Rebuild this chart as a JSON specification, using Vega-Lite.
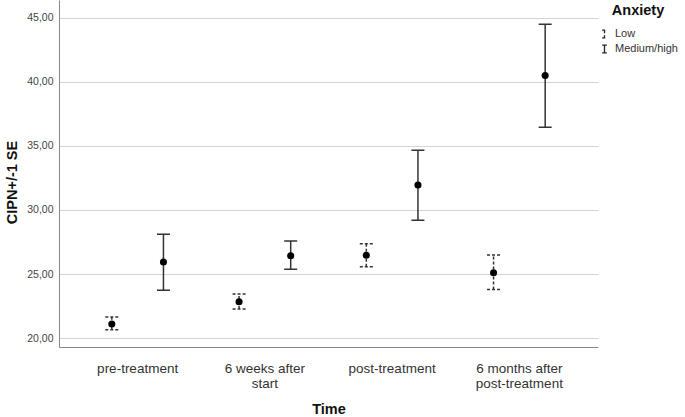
{
  "$schema": "https://vega.github.io/schema/vega-lite/v6.json",
  "width": 539,
  "height": 347,
  "autosize": {"type": "none"},
  "padding": {"left": 59, "top": 0, "right": 87, "bottom": 70},
  "background": "white",
  "config": {
    "font": "Liberation Sans",
    "view": {"stroke": null}
  },
  "data": {
    "values": [
      {"Time": "pre-treatment", "Anxiety": "Low", "mean": 21.1, "lower": 20.65, "upper": 21.64},
      {"Time": "pre-treatment", "Anxiety": "Medium/high", "mean": 25.94, "lower": 23.73, "upper": 28.1},
      {"Time": "6 weeks after start", "Anxiety": "Low", "mean": 22.84, "lower": 22.27, "upper": 23.44},
      {"Time": "6 weeks after start", "Anxiety": "Medium/high", "mean": 26.43, "lower": 25.37, "upper": 27.58},
      {"Time": "post-treatment", "Anxiety": "Low", "mean": 26.46, "lower": 25.57, "upper": 27.37},
      {"Time": "post-treatment", "Anxiety": "Medium/high", "mean": 31.95, "lower": 29.19, "upper": 34.66},
      {"Time": "6 months after post-treatment", "Anxiety": "Low", "mean": 25.1, "lower": 23.8, "upper": 26.48},
      {"Time": "6 months after post-treatment", "Anxiety": "Medium/high", "mean": 40.5, "lower": 36.46, "upper": 44.5}
    ]
  },
  "encoding": {
    "x": {
      "field": "Time",
      "type": "nominal",
      "sort": ["pre-treatment", "6 weeks after start", "post-treatment", "6 months after post-treatment"],
      "scale": {"paddingInner": 0, "paddingOuter": 0.118},
      "axis": {
        "title": "Time",
        "titleFont": "Liberation Sans",
        "titleFontSize": 14.5,
        "titleFontWeight": "bold",
        "titleColor": "#111111",
        "titleY": 62,
        "titleBaseline": "middle",
        "labelAngle": 0,
        "labelFontSize": 13.5,
        "labelColor": "#333333",
        "labelPadding": 14,
        "labelLineHeight": 15,
        "labelExpr": "datum.label == '6 weeks after start' ? ['6 weeks after', 'start'] : datum.label == '6 months after post-treatment' ? ['6 months after', 'post-treatment'] : datum.label",
        "ticks": false,
        "domainColor": "#888888",
        "domainWidth": 1,
        "grid": false
      }
    },
    "xOffset": {
      "field": "Anxiety",
      "type": "nominal",
      "scale": {"paddingInner": 0, "paddingOuter": 0.232}
    }
  },
  "layer": [
    {
      "mark": {"type": "rule", "strokeWidth": 1.5, "color": "#333333"},
      "encoding": {
        "y": {
          "field": "lower",
          "type": "quantitative",
          "scale": {"domain": [19.3, 46.4], "nice": false, "zero": false},
          "axis": {
            "title": "CIPN+/-1 SE",
            "titleFont": "Liberation Sans",
            "titleFontSize": 14.5,
            "titleFontWeight": "bold",
            "titleColor": "#111111",
            "titleX": -47,
            "titleY": 182,
            "titleAngle": -90,
            "titleAlign": "center",
            "titleBaseline": "middle",
            "values": [20, 25, 30, 35, 40, 45],
            "labelExpr": "replace(format(datum.value, '.2f'), '.', ',')",
            "labelFontSize": 10.5,
            "labelColor": "#444444",
            "labelPadding": 6,
            "ticks": false,
            "domainColor": "#888888",
            "domainWidth": 1,
            "grid": true,
            "gridColor": "#d4d4d4",
            "gridWidth": 1.2
          }
        },
        "y2": {"field": "upper"},
        "strokeDash": {
          "field": "Anxiety",
          "type": "nominal",
          "scale": {"domain": ["Low", "Medium/high"], "range": [[3, 2], [1, 0]]},
          "legend": {
            "title": "Anxiety",
            "orient": "none",
            "legendX": 540,
            "legendY": 4,
            "titleFontSize": 14.5,
            "titleFontWeight": "bold",
            "titleColor": "#111111",
            "titleAnchor": "middle",
            "titlePadding": 10,
            "labelFontSize": 11,
            "labelColor": "#333333",
            "labelOffset": 5,
            "labelLimit": 90,
            "rowPadding": 2,
            "symbolType": "M-0.6,-1H0.6M0,-1V1M-0.6,1H0.6",
            "symbolSize": 60,
            "symbolStrokeColor": "#222222",
            "symbolStrokeWidth": 1.3,
            "symbolFillColor": "transparent"
          }
        }
      }
    },
    {
      "mark": {"type": "point", "shape": "M-1,0H1", "size": 169, "strokeWidth": 1.5, "color": "#333333", "filled": false, "opacity": 1},
      "encoding": {
        "y": {"field": "upper", "type": "quantitative"},
        "strokeDash": {"field": "Anxiety", "type": "nominal", "legend": null}
      }
    },
    {
      "mark": {"type": "point", "shape": "M-1,0H1", "size": 169, "strokeWidth": 1.5, "color": "#333333", "filled": false, "opacity": 1},
      "encoding": {
        "y": {"field": "lower", "type": "quantitative"},
        "strokeDash": {"field": "Anxiety", "type": "nominal", "legend": null}
      }
    },
    {
      "mark": {"type": "circle", "size": 50, "color": "#000000", "opacity": 1},
      "encoding": {
        "y": {"field": "mean", "type": "quantitative"}
      }
    }
  ]
}
